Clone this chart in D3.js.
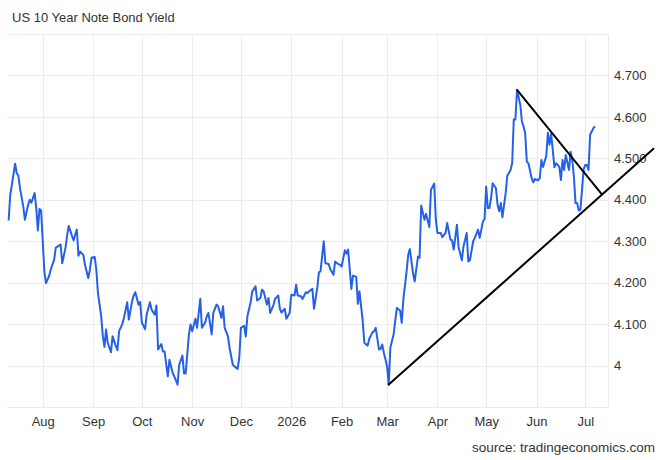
<!DOCTYPE html>
<html>
<head>
<meta charset="utf-8">
<script src="https://cdn.jsdelivr.net/npm/d3@7"></script>
<style>
  body { margin: 0; background: #fff; }
  svg { display: block; font-family: "Liberation Sans", Arial, sans-serif; }
</style>
</head>
<body>
<svg width="663" height="460"></svg>
<script>
// US 10Y yield (approximate)
const dates = [
  "2025-07-11","2025-07-12","2025-07-13","2025-07-15","2025-07-16","2025-07-17","2025-07-18","2025-07-20","2025-07-21","2025-07-23",
  "2025-07-24","2025-07-25","2025-07-27","2025-07-28","2025-07-29","2025-07-30","2025-07-31","2025-08-02","2025-08-03","2025-08-05",
  "2025-08-06","2025-08-08","2025-08-09","2025-08-10","2025-08-12","2025-08-13","2025-08-15","2025-08-16","2025-08-17","2025-08-19",
  "2025-08-20","2025-08-21","2025-08-22","2025-08-23","2025-08-24","2025-08-26","2025-08-27","2025-08-29","2025-08-30","2025-08-31",
  "2025-09-02","2025-09-03","2025-09-04","2025-09-06","2025-09-07","2025-09-08","2025-09-09","2025-09-10","2025-09-12","2025-09-13",
  "2025-09-15","2025-09-16","2025-09-17","2025-09-19","2025-09-20","2025-09-22","2025-09-23","2025-09-25","2025-09-26","2025-09-27",
  "2025-09-29","2025-09-30","2025-10-01","2025-10-03","2025-10-04","2025-10-06","2025-10-07","2025-10-09","2025-10-10","2025-10-11",
  "2025-10-13","2025-10-14","2025-10-15","2025-10-17","2025-10-18","2025-10-20","2025-10-21","2025-10-23","2025-10-24","2025-10-26",
  "2025-10-27","2025-10-28","2025-10-30","2025-10-31","2025-11-01","2025-11-03","2025-11-04","2025-11-06","2025-11-07","2025-11-09",
  "2025-11-10","2025-11-11","2025-11-13","2025-11-14","2025-11-16","2025-11-17","2025-11-19","2025-11-20","2025-11-21","2025-11-23",
  "2025-11-24","2025-11-26","2025-11-27","2025-11-29","2025-11-30","2025-12-01","2025-12-03","2025-12-04","2025-12-05","2025-12-07",
  "2025-12-08","2025-12-10","2025-12-11","2025-12-13","2025-12-14","2025-12-15","2025-12-17","2025-12-18","2025-12-19","2025-12-21",
  "2025-12-22","2025-12-24","2025-12-25","2025-12-26","2025-12-28","2025-12-29","2025-12-31","2026-01-01","2026-01-03","2026-01-04",
  "2026-01-05","2026-01-07","2026-01-08","2026-01-10","2026-01-11","2026-01-12","2026-01-14","2026-01-15","2026-01-17","2026-01-18",
  "2026-01-19","2026-01-21","2026-01-22","2026-01-24","2026-01-25","2026-01-27","2026-01-28","2026-01-29","2026-01-31","2026-02-01",
  "2026-02-03","2026-02-04","2026-02-05","2026-02-07","2026-02-08","2026-02-10","2026-02-11","2026-02-12","2026-02-14","2026-02-15",
  "2026-02-17","2026-02-18","2026-02-20","2026-02-21","2026-02-22","2026-02-24","2026-02-25","2026-02-26","2026-02-27","2026-03-01",
  "2026-03-02","2026-03-03","2026-03-05","2026-03-06","2026-03-07","2026-03-09","2026-03-10","2026-03-11","2026-03-13","2026-03-14",
  "2026-03-15","2026-03-17","2026-03-18","2026-03-20","2026-03-21","2026-03-22","2026-03-24","2026-03-25","2026-03-27","2026-03-28",
  "2026-03-30","2026-03-31","2026-04-01","2026-04-03","2026-04-04","2026-04-06","2026-04-07","2026-04-09","2026-04-10","2026-04-11",
  "2026-04-13","2026-04-14","2026-04-16","2026-04-17","2026-04-19","2026-04-20","2026-04-21","2026-04-23","2026-04-24","2026-04-26",
  "2026-04-27","2026-04-29","2026-04-30","2026-05-01","2026-05-02","2026-05-03","2026-05-04","2026-05-05","2026-05-07","2026-05-08",
  "2026-05-09","2026-05-10","2026-05-11","2026-05-13","2026-05-14","2026-05-16","2026-05-17","2026-05-18","2026-05-19","2026-05-20",
  "2026-05-22","2026-05-23","2026-05-24","2026-05-25","2026-05-26","2026-05-27","2026-05-29","2026-05-30","2026-05-31","2026-06-02",
  "2026-06-03","2026-06-04","2026-06-05","2026-06-07","2026-06-08","2026-06-09","2026-06-10","2026-06-11","2026-06-12","2026-06-13",
  "2026-06-15","2026-06-16","2026-06-17","2026-06-18","2026-06-19","2026-06-21","2026-06-22","2026-06-23","2026-06-24","2026-06-25",
  "2026-06-26","2026-06-27","2026-06-28","2026-06-29","2026-06-30","2026-07-01","2026-07-02","2026-07-03","2026-07-04","2026-07-06",
  "2026-07-07"
];

const yields = [
  4.350,4.412,4.436,4.487,4.464,4.458,4.428,4.384,4.352,4.388,
  4.400,4.393,4.416,4.380,4.326,4.378,4.374,4.227,4.199,4.217,
  4.233,4.255,4.284,4.287,4.292,4.247,4.284,4.313,4.337,4.313,
  4.302,4.316,4.328,4.265,4.275,4.267,4.243,4.211,4.230,4.260,
  4.262,4.231,4.175,4.119,4.071,4.045,4.087,4.055,4.032,4.071,
  4.047,4.037,4.083,4.100,4.115,4.153,4.111,4.155,4.169,4.177,
  4.147,4.153,4.104,4.088,4.123,4.153,4.135,4.123,4.145,4.039,
  4.052,4.034,4.034,3.974,4.014,3.982,3.974,3.954,4.002,4.024,
  3.981,3.981,4.075,4.099,4.083,4.113,4.091,4.161,4.091,4.104,
  4.119,4.127,4.075,4.127,4.147,4.143,4.115,4.143,4.091,4.071,
  4.043,4.002,3.998,3.992,4.019,4.091,4.096,4.070,4.119,4.153,
  4.179,4.191,4.157,4.163,4.183,4.179,4.147,4.163,4.127,4.145,
  4.161,4.169,4.137,4.128,4.137,4.113,4.127,4.171,4.169,4.195,
  4.169,4.167,4.161,4.177,4.175,4.179,4.185,4.137,4.187,4.225,
  4.227,4.300,4.247,4.245,4.233,4.219,4.251,4.247,4.243,4.239,
  4.278,4.270,4.280,4.185,4.217,4.214,4.149,4.179,4.107,4.055,
  4.048,4.064,4.080,4.083,4.091,4.039,4.040,4.051,4.031,3.998,
  3.954,4.043,4.075,4.107,4.139,4.133,4.103,4.159,4.227,4.267,
  4.281,4.222,4.203,4.263,4.260,4.386,4.352,4.366,4.334,4.424,
  4.439,4.352,4.320,4.320,4.310,4.320,4.344,4.304,4.302,4.280,
  4.340,4.286,4.254,4.287,4.320,4.251,4.254,4.300,4.308,4.328,
  4.308,4.348,4.353,4.432,4.380,4.380,4.404,4.440,4.428,4.388,
  4.372,4.392,4.358,4.416,4.458,4.472,4.488,4.594,4.594,4.665,
  4.629,4.589,4.577,4.561,4.492,4.488,4.452,4.442,4.450,4.447,
  4.452,4.496,4.479,4.506,4.562,4.533,4.559,4.520,4.479,4.488,
  4.480,4.448,4.496,4.472,4.508,4.472,4.516,4.496,4.456,4.392,
  4.392,4.374,4.376,4.424,4.474,4.484,4.484,4.472,4.557,4.573,
  4.577
];

// hand drawn trend lines (support from the March low, resistance from the May high)
const supportDates = ["2026-03-02", "2026-08-12"];
const supportValues = [3.954, 4.523];
const resistDates = ["2026-05-20", "2026-07-11"];
const resistValues = [4.665, 4.414];

const gridValues = [3.9, 4.0, 4.1, 4.2, 4.3, 4.4, 4.5, 4.6, 4.7, 4.8];
const yTickValues = [4.0, 4.1, 4.2, 4.3, 4.4, 4.5, 4.6, 4.7];
const xDomain = ["2025-07-10", "2026-07-15"];

const parse = d3.timeParse("%Y-%m-%d");
const data = dates.map((d, i) => ({ date: parse(d), value: yields[i] }));
const support = supportDates.map((d, i) => ({ date: parse(d), value: supportValues[i] }));
const resist = resistDates.map((d, i) => ({ date: parse(d), value: resistValues[i] }));

const svg = d3.select("svg");
const width = +svg.attr("width");
const height = +svg.attr("height");
const margin = { top: 34, right: 55, bottom: 53, left: 7 };

const x = d3
  .scaleTime()
  .domain(xDomain.map(parse))
  .range([margin.left, width - margin.right]);

const y = d3
  .scaleLinear()
  .domain([3.9, 4.8])
  .range([height - margin.bottom, margin.top]);

// grid
svg
  .append("g")
  .attr("stroke", "#ececec")
  .attr("shape-rendering", "crispEdges")
  .call((g) =>
    g
      .selectAll(".h")
      .data(gridValues)
      .join("line")
      .attr("x1", margin.left)
      .attr("x2", width - margin.right)
      .attr("y1", (d) => Math.round(y(d)) + 0.5)
      .attr("y2", (d) => Math.round(y(d)) + 0.5)
  )
  .call((g) =>
    g
      .selectAll(".v")
      .data(d3.timeMonth.range(...x.domain()).concat([x.domain()[1]]))
      .join("line")
      .attr("x1", (d) => Math.round(x(d)) + 0.5)
      .attr("x2", (d) => Math.round(x(d)) + 0.5)
      .attr("y1", margin.top)
      .attr("y2", height - margin.bottom)
  );

// axes (labels only)
svg
  .append("g")
  .attr("transform", `translate(${width - margin.right},0)`)
  .call(
    d3
      .axisRight(y)
      .tickValues(yTickValues)
      .tickSize(0)
      .tickPadding(6)
      .tickFormat((d) => (d === 4 ? "4" : d3.format(".3f")(d)))
  )
  .call((g) => g.select(".domain").remove())
  .call((g) =>
    g.selectAll("text").attr("fill", "#333").style("font-size", "13px")
  );

svg
  .append("g")
  .attr("transform", `translate(0,${height - margin.bottom})`)
  .call(
    d3
      .axisBottom(x)
      .ticks(d3.timeMonth)
      .tickSize(0)
      .tickPadding(10)
      .tickFormat((d) =>
        d.getMonth() === 0 ? d3.timeFormat("%Y")(d) : d3.timeFormat("%b")(d)
      )
  )
  .call((g) => g.select(".domain").remove())
  .call((g) =>
    g.selectAll("text").attr("fill", "#333").style("font-size", "13px")
  );

const line = d3
  .line()
  .x((d) => x(d.date))
  .y((d) => y(d.value));

svg
  .append("path")
  .datum(data)
  .attr("fill", "none")
  .attr("stroke", "#2560e8")
  .attr("stroke-width", 2)
  .attr("stroke-linejoin", "round")
  .attr("d", line);

svg
  .append("g")
  .attr("fill", "none")
  .attr("stroke", "#000")
  .attr("stroke-width", 2)
  .attr("stroke-linecap", "round")
  .selectAll("path")
  .data([support, resist])
  .join("path")
  .attr("d", line);

svg
  .append("text")
  .attr("x", 12)
  .attr("y", 22)
  .attr("fill", "#333")
  .style("font-size", "13px")
  .text("US 10 Year Note Bond Yield");

svg
  .append("text")
  .attr("x", 655)
  .attr("y", 452)
  .attr("text-anchor", "end")
  .attr("fill", "#333")
  .style("font-size", "13.5px")
  .text("source: tradingeconomics.com");
</script>
</body>
</html>
